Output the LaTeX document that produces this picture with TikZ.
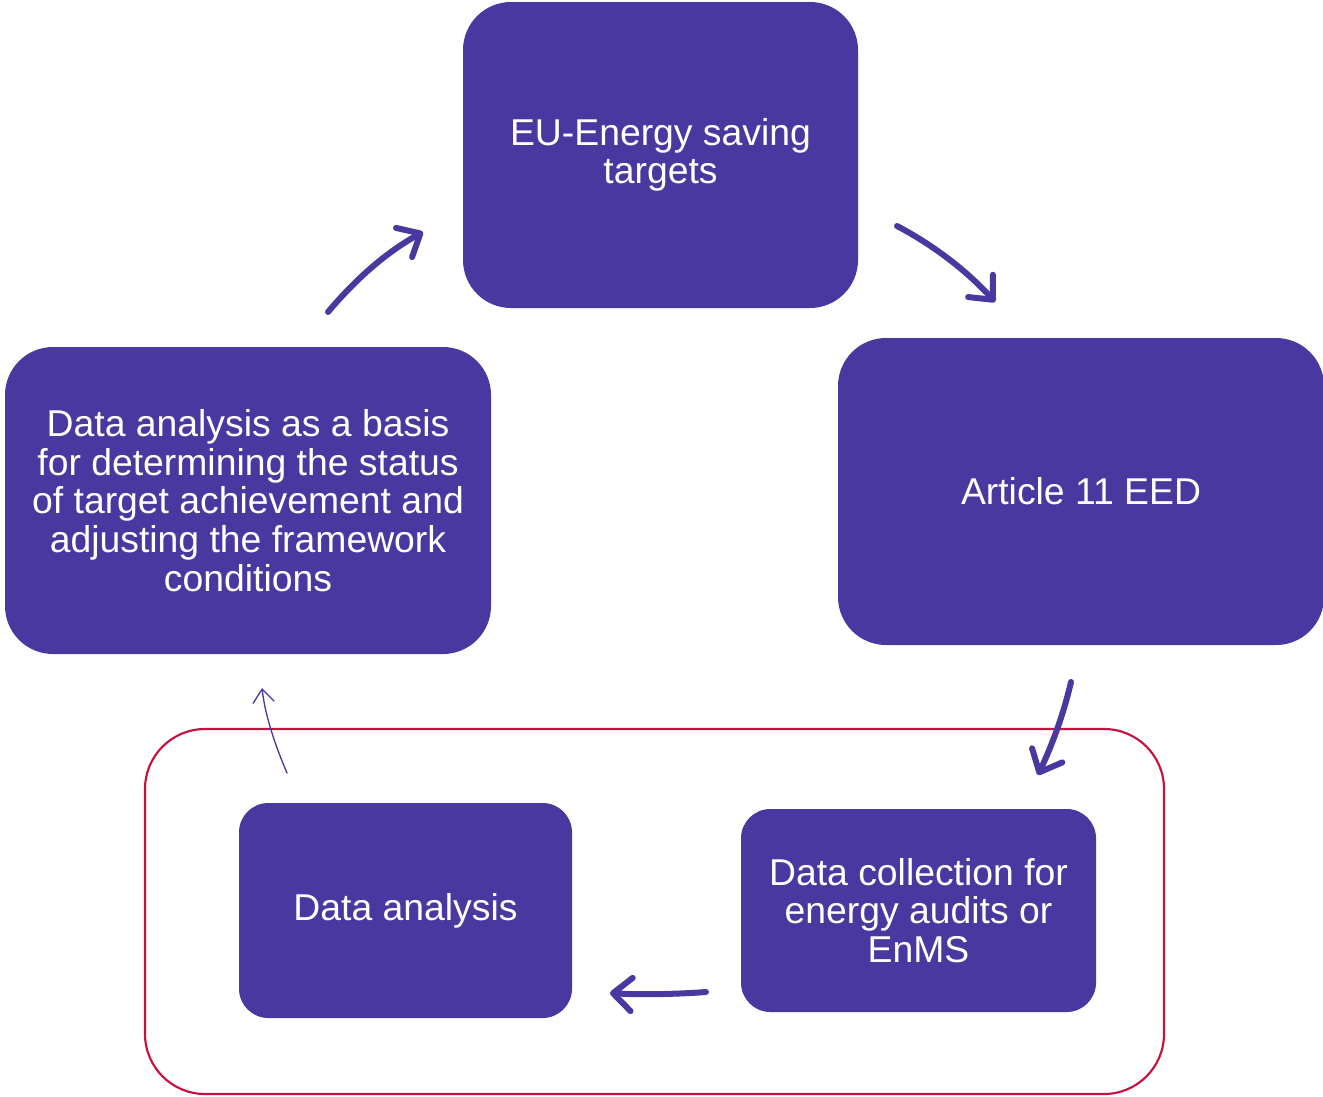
\documentclass[tikz,border=0pt]{standalone}
\usepackage{fontspec}
\setmainfont{Liberation Sans}
\usetikzlibrary{arrows.meta}
\definecolor{boxpurple}{HTML}{48389F}
\definecolor{framered}{HTML}{C8103E}
\begin{document}
\begin{tikzpicture}[x=0.75pt,y=-0.75pt,
  box/.style={fill=boxpurple, draw=none, rounded corners=36pt, text=white, align=center,
    font=\fontsize{28}{29}\selectfont, inner sep=0pt},
  smallbox/.style={box, rounded corners=22pt},
  flow/.style={draw=boxpurple, line width=4.5pt, line cap=round,
    -{Straight Barb[length=14pt,width=25pt,line cap=round,line join=round]}},
  thin/.style={draw=boxpurple, line width=1pt, line cap=round,
    -{Straight Barb[length=10pt,width=16pt]}}]
\useasboundingbox (0,0) rectangle (1323,1096);
% red frame
\draw[framered, line width=1.6pt, rounded corners=45pt] (145,729) rectangle (1164,1094);
% boxes
\node[box, minimum width=395*0.75pt, minimum height=306*0.75pt] (eu) at (660.5,155) {EU-Energy saving\\targets};
\node[box, minimum width=486*0.75pt, minimum height=307*0.75pt] (art) at (1081,491.5) {Article 11 EED};
\node[box, minimum width=486*0.75pt, minimum height=307*0.75pt] (left) at (248,500.5) {Data analysis as a basis\\for determining the status\\of target achievement and\\adjusting the framework\\conditions};
\node[smallbox, minimum width=333*0.75pt, minimum height=215*0.75pt] (da) at (405.5,910.5) {Data analysis};
\node[smallbox, minimum width=355*0.75pt, minimum height=203*0.75pt] (dc) at (918.5,910.5) {Data collection for\\energy audits or\\EnMS};
% connector anchors
\coordinate (a1s) at (897,226); \coordinate (a1e) at (995,302);
\coordinate (a2s) at (1071,682); \coordinate (a2e) at (1038,775);
\coordinate (a3s) at (706,992); \coordinate (a3e) at (610,993);
\coordinate (a4s) at (287,773); \coordinate (a4e) at (262,688);
\coordinate (a5s) at (328,312); \coordinate (a5e) at (423,232);
\draw[flow] (a1s) .. controls (935,246) and (968,272) .. (a1e);
\draw[flow] (a2s) .. controls (1063,716) and (1052,745) .. (a2e);
\draw[flow] (a3s) .. controls (680,994) and (640,995) .. (a3e);
\draw[thin] (a4s) .. controls (275,745) and (265,715) .. (a4e);
\draw[flow] (a5s) .. controls (355,280) and (385,253) .. (a5e);
\end{tikzpicture}
\end{document}
